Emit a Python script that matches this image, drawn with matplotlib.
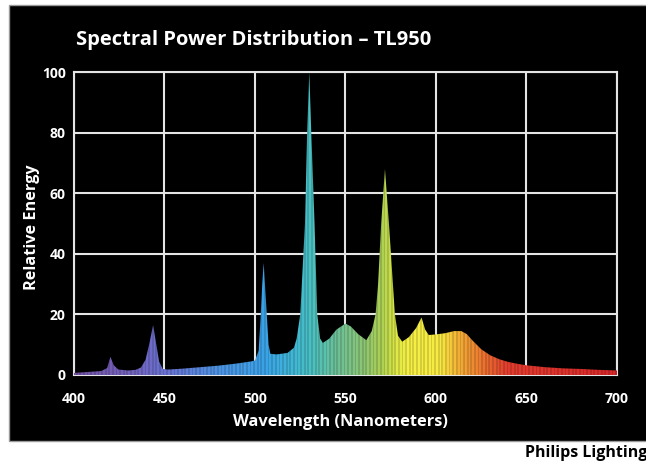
import numpy as np
import matplotlib
matplotlib.use("Agg")
import matplotlib.pyplot as plt
from matplotlib.colors import LinearSegmentedColormap
from matplotlib.patches import Rectangle

plt.rcParams['font.family'] = ['Open Sans', 'DejaVu Sans']

# ---- data ----
wavelength = [400, 405, 410, 415, 418.3, 420.1, 422, 424.5, 430, 434, 437, 439.5, 441.5,
              443.7, 445.5, 447, 449, 452, 460, 470, 480, 490, 498, 500, 502, 503,
              504, 504.8, 505.5, 506.5, 507.5, 508.5, 512, 518, 521.5, 523, 525,
              527.6, 528.8, 530, 531.1, 532.9, 534.4, 536, 537.5, 541, 545, 550,
              553, 557, 561.5, 564.5, 566.6, 568, 569.7, 571.8, 574, 576.2, 577.3,
              579, 581.3, 585, 589, 592, 594, 596, 600, 605, 610, 614, 617, 620,
              625, 630, 635, 640, 645, 650, 660, 670, 680, 690, 700]
energy = [0.7, 0.9, 1.1, 1.3, 2.3, 6.0, 3.2, 1.8, 1.5, 1.7, 2.5, 5.0, 10.0,
          16.5, 10.0, 4.5, 2.0, 1.8, 2.1, 2.6, 3.1, 3.8, 4.5, 4.8, 8.0, 18.0,
          30.0, 37.0, 30.0, 20.0, 10.0, 7.0, 6.8, 7.3, 9.0, 12.0, 20.0,
          50.0, 80.0, 100.0, 80.0, 50.0, 20.0, 12.0, 10.6, 12.0, 15.0, 17.0,
          16.0, 13.5, 11.5, 14.5, 20.0, 30.0, 50.0, 68.0, 50.0, 30.0, 20.0,
          13.0, 11.0, 12.5, 15.5, 19.0, 15.0, 13.2, 13.4, 13.8, 14.5, 14.5, 13.5, 11.5,
          8.5, 6.5, 5.2, 4.3, 3.7, 3.2, 2.6, 2.2, 2.0, 1.7, 1.5]
x_ticks = [400, 450, 500, 550, 600, 650, 700]
y_ticks = [0, 20, 40, 60, 80, 100]

title = "Spectral Power Distribution \u2013 TL950"
x_label = "Wavelength (Nanometers)"
y_label = "Relative Energy"
credit = "Philips Lighting"

# ---- spectral colour stops (style) ----
stops = [(400, '#7352a6'), (430, '#7262bc'), (450, '#6a72d2'), (480, '#4c92e2'),
         (505, '#3aa2e8'), (520, '#40b6d6'), (530, '#48c0c4'), (545, '#6cc098'),
         (560, '#8cc674'), (570, '#acd054'), (578, '#dce844'), (585, '#f6f044'),
         (603, '#f8ea42'), (612, '#f4b436'), (625, '#ec7a30'), (640, '#e23c2e'),
         (700, '#d8282a')]
cmap = LinearSegmentedColormap.from_list(
    'spec', [((w - 400) / 300, c) for w, c in stops])

W, H = 646, 463
fig = plt.figure(figsize=(W / 100, H / 100), dpi=100)
fig.patch.set_facecolor('white')

# black panel
fig.patches.append(Rectangle((9 / W, 1 - 441 / H), 1, (441 - 5) / H,
                             transform=fig.transFigure, facecolor='black',
                             edgecolor='#9a9a9a', linewidth=1.0, zorder=-5))

ax = fig.add_axes([74 / W, 1 - 375 / H, (617 - 74) / W, (375 - 72) / H])
ax.set_zorder(2)
ax.set_facecolor('black')
ax.set_xlim(400, 700)
ax.set_ylim(0, 100)
ax.set_xticks(x_ticks)
ax.set_yticks(y_ticks)
ax.set_axisbelow(True)
ax.grid(True, color='#e4e4e4', linewidth=1.5)
for s in ax.spines.values():
    s.set_color('#e4e4e4')
    s.set_linewidth(1.5)
ax.tick_params(length=0, colors='white', labelsize=10)
ax.tick_params(axis='x', pad=12)
ax.tick_params(axis='y', pad=6)
for lab in ax.get_xticklabels() + ax.get_yticklabels():
    lab.set_fontweight('bold')

# gradient image with striations, clipped by the spectrum polygon
ncol = 600
xs = np.linspace(400, 700, ncol)
rgb = cmap((xs - 400) / 300)[:, :3]
stripe = np.where((np.arange(ncol) // 2) % 2 == 0, 1.0, 0.86)
rgb = rgb * stripe[:, None]
img = np.repeat(rgb[None, :, :], 2, axis=0)
im = ax.imshow(img, extent=[400, 700, 0, 100], aspect='auto', origin='lower',
               interpolation='nearest', zorder=3)
poly = ax.fill(np.r_[wavelength, 700, 400], np.r_[energy, 0, 0],
               facecolor='none', edgecolor='none', zorder=3)[0]
im.set_clip_path(poly)

fig.text(76 / W, 1 - 40 / H, title, color='white', fontsize=14.5,
         fontweight='bold', va='center', ha='left', zorder=5)
fig.text(340 / W, 1 - 422 / H, x_label, color='white', fontsize=11.8,
         fontweight='bold', va='center', ha='center', zorder=5)
fig.text(32 / W, 1 - 227 / H, y_label, color='white', fontsize=11.7,
         fontweight='bold', va='center', ha='center', rotation=90, zorder=5)
fig.text(525 / W, 1 - 453 / H, credit, color='black', fontsize=11.5,
         fontweight='bold', va='center', ha='left', zorder=5)

fig.savefig('out.png', dpi=100, facecolor='white')
